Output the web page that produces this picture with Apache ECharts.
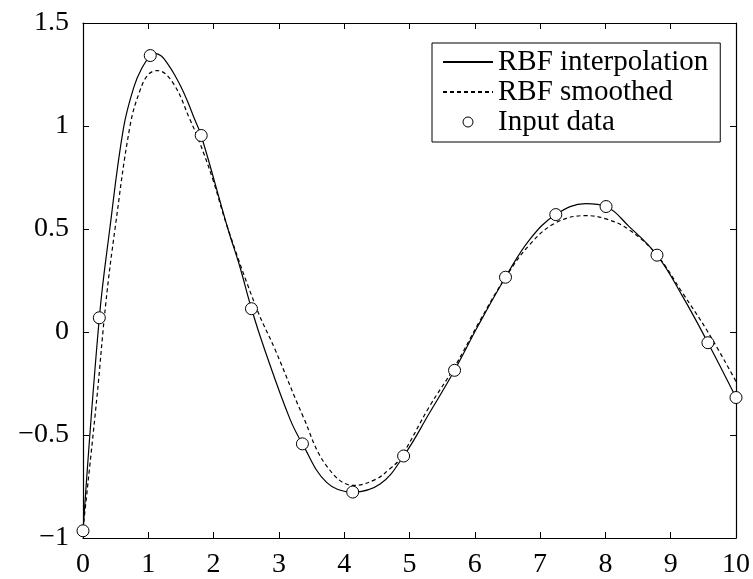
<!DOCTYPE html>
<html>
<head>
<meta charset="utf-8">
<script src="https://cdn.jsdelivr.net/npm/echarts@6/dist/echarts.min.js"></script>
<style>html,body{margin:0;padding:0;background:#fff}#c{width:753px;height:579px}</style>
</head>
<body>
<div id="c"></div>
<script>
var xTicks = [0,1,2,3,4,5,6,7,8,9,10];
var yTicks = [-1,-0.5,0,0.5,1,1.5];

var dataX = [0, 0.25, 1.03, 1.81, 2.58, 3.36, 4.13, 4.91, 5.69, 6.47, 7.24, 8.01, 8.79, 9.57, 10];
var dataY = [-0.965, 0.069, 1.342, 0.954, 0.113, -0.543, -0.777, -0.602, -0.186, 0.266, 0.570, 0.609, 0.373, -0.052, -0.318];

var interpX = [0, 0.25, 0.41, 0.62, 0.78, 0.9, 1.03, 1.1, 1.2, 1.3, 1.4, 1.5, 1.6, 1.7, 1.81, 2.22, 2.40, 2.58, 2.78, 3.17, 3.36, 3.73, 4.13, 4.55, 4.91, 5.31, 5.69, 6.05, 6.47, 6.84, 7.24, 7.70, 8.01, 8.36, 8.79, 9.18, 9.57, 10];
var interpY = [-0.965, 0.069, 0.5, 0.99, 1.19, 1.28, 1.342, 1.353, 1.34, 1.30, 1.25, 1.19, 1.12, 1.04, 0.954, 0.5, 0.319, 0.113, -0.084, -0.423, -0.543, -0.73, -0.777, -0.738, -0.602, -0.391, -0.186, 0.03, 0.266, 0.449, 0.570, 0.623, 0.609, 0.513, 0.373, 0.174, -0.052, -0.318];

var smoothX = [0, 0.21, 0.35, 0.49, 0.72, 0.87, 1.0, 1.14, 1.38, 1.64, 1.79, 1.99, 2.2, 2.66, 2.94, 3.37, 3.73, 4.15, 4.49, 4.69, 4.85, 5.31, 5.69, 6.07, 6.46, 6.84, 7.24, 7.70, 8.01, 8.36, 8.79, 9.18, 9.57, 10];
var smoothY = [-0.957, -0.327, 0.142, 0.5, 1.0, 1.17, 1.25, 1.269, 1.208, 1.03, 0.917, 0.739, 0.52, 0.113, -0.084, -0.41, -0.65, -0.745, -0.714, -0.666, -0.617, -0.359, -0.17, 0.05, 0.26, 0.424, 0.530, 0.565, 0.549, 0.497, 0.373, 0.19, 0.0, -0.24];

var seriesNames = ['RBF interpolation', 'RBF smoothed', 'Input data'];

function zip(xs, ys){ return xs.map(function(x,i){ return [x, ys[i]]; }); }
function fmt(v){ return String(v).replace('-', '\u2212'); }

var FONT = 'Liberation Serif';
function axisCommon(){
  return {
    axisLine: {show: true, onZero: false, lineStyle: {color: '#000', width: 1.2}},
    axisTick: {show: true, inside: true, length: 6, lineStyle: {color: '#000', width: 1}},
    splitLine: {show: false}
  };
}
var hidden = {color: 'rgba(0,0,0,0)', borderColor: 'rgba(0,0,0,0)', borderWidth: 0};

var chart = echarts.init(document.getElementById('c'), null, {renderer: 'canvas'});
chart.setOption({
  animation: false,
  backgroundColor: '#fff',
  grid: {left: 83, right: 16, top: 23, bottom: 40, containLabel: false},
  xAxis: [
    Object.assign({type: 'value', position: 'bottom', min: xTicks[0], max: xTicks[xTicks.length-1], interval: 1,
      axisLabel: {show: true, color: '#000', fontFamily: FONT, fontSize: 28, margin: 13, formatter: fmt}}, axisCommon()),
    Object.assign({type: 'value', position: 'top', min: xTicks[0], max: xTicks[xTicks.length-1], interval: 1,
      axisLabel: {show: false}}, axisCommon())
  ],
  yAxis: [
    Object.assign({type: 'value', position: 'left', min: yTicks[0], max: yTicks[yTicks.length-1], interval: 0.5,
      axisLabel: {show: true, color: '#000', fontFamily: FONT, fontSize: 28, margin: 14, formatter: fmt}}, axisCommon()),
    Object.assign({type: 'value', position: 'right', min: yTicks[0], max: yTicks[yTicks.length-1], interval: 0.5,
      axisLabel: {show: false}}, axisCommon())
  ],
  legend: {
    left: 432, top: 43, orient: 'vertical',
    backgroundColor: '#fff',
    borderColor: '#000', borderWidth: 1, borderRadius: 0,
    padding: [4, 12, 5, 10],
    itemGap: 0, itemWidth: 50, itemHeight: 10, itemTextGap: 5,
    textStyle: {color: '#000', fontFamily: FONT, fontSize: 29, lineHeight: 30},
    data: [
      {name: seriesNames[0], itemStyle: hidden},
      {name: seriesNames[1], itemStyle: hidden},
      {name: seriesNames[2], icon: 'circle', itemStyle: {color: '#fff', borderColor: '#000', borderWidth: 1, opacity: 1}}
    ]
  },
  series: [
    {name: seriesNames[0], type: 'line', data: zip(interpX, interpY), smooth: 0.4, symbol: 'none',
      lineStyle: {color: '#000', width: 1.2, type: 'solid'}, itemStyle: {color: '#000'}, z: 2},
    {name: seriesNames[1], type: 'line', data: zip(smoothX, smoothY), smooth: 0.4, symbol: 'none',
      lineStyle: {color: '#000', width: 1.2, type: [4, 3]}, itemStyle: {color: '#000'}, z: 2},
    {name: seriesNames[2], type: 'scatter', data: zip(dataX, dataY), symbol: 'circle', symbolSize: 12,
      itemStyle: {color: '#fff', borderColor: '#000', borderWidth: 1, opacity: 1}, z: 5}
  ]
});
</script>
</body>
</html>
